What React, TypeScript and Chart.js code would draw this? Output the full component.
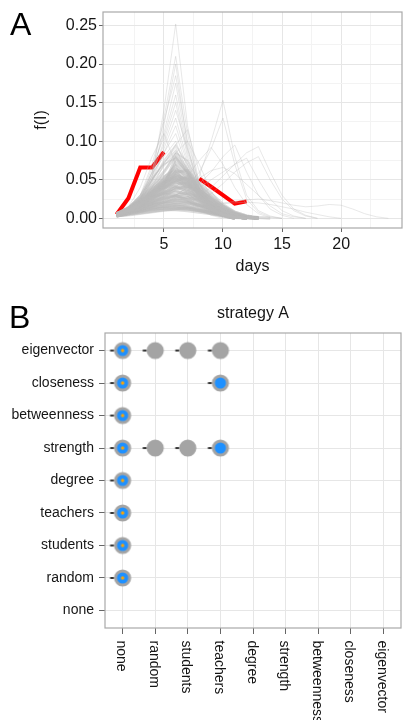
import React, { useEffect, useRef } from 'react';
import { Chart, registerables } from 'chart.js';

Chart.register(...registerables);

const FONT = '"Liberation Sans", Arial, Helvetica, sans-serif';
const TEXT = '#151515';

// ---------- Panel A data ----------
const days = [1, 2, 3, 4, 5, 6, 7, 8, 9, 10, 11, 12, 13, 14, 15, 16, 17, 18, 19, 20, 21, 22, 23, 24];
const xTickValues = [2.5, 5, 7.5, 10, 12.5, 15, 17.5, 20, 22.5];
const xTickLabels = [5, 10, 15, 20];
const yTickValues = [0, 0.025, 0.05, 0.075, 0.1, 0.125, 0.15, 0.175, 0.2, 0.225, 0.25];
const yTickLabels = [0, 0.05, 0.1, 0.15, 0.2, 0.25];

const lowRuns: number[][] = [
  [0.005, 0.010, 0.018, 0.028, 0.040, 0.060, 0.045, 0.025, 0.012, 0.005, 0.001, 0],
  [0.004, 0.009, 0.016, 0.026, 0.038, 0.055, 0.050, 0.030, 0.015, 0.006, 0.002, 0],
  [0.006, 0.012, 0.020, 0.032, 0.045, 0.052, 0.040, 0.024, 0.012, 0.005, 0],
  [0.005, 0.011, 0.019, 0.030, 0.042, 0.048, 0.038, 0.026, 0.014, 0.006, 0.002, 0],
  [0.004, 0.008, 0.014, 0.022, 0.032, 0.044, 0.046, 0.034, 0.020, 0.010, 0.004, 0],
  [0.006, 0.013, 0.022, 0.034, 0.040, 0.042, 0.034, 0.022, 0.011, 0.004, 0],
  [0.005, 0.010, 0.017, 0.026, 0.034, 0.040, 0.036, 0.028, 0.018, 0.009, 0.003, 0],
  [0.003, 0.007, 0.012, 0.020, 0.028, 0.038, 0.042, 0.036, 0.026, 0.015, 0.006, 0.002, 0],
  [0.005, 0.011, 0.018, 0.027, 0.033, 0.036, 0.030, 0.020, 0.011, 0.005, 0],
  [0.004, 0.009, 0.015, 0.022, 0.030, 0.034, 0.032, 0.025, 0.016, 0.008, 0.003, 0],
  [0.006, 0.012, 0.020, 0.028, 0.032, 0.030, 0.024, 0.016, 0.009, 0.004, 0],
  [0.004, 0.008, 0.013, 0.019, 0.025, 0.030, 0.032, 0.028, 0.020, 0.012, 0.006, 0.002, 0],
  [0.005, 0.010, 0.016, 0.022, 0.027, 0.028, 0.024, 0.017, 0.010, 0.004, 0],
  [0.003, 0.007, 0.011, 0.016, 0.021, 0.025, 0.027, 0.024, 0.018, 0.011, 0.005, 0.002, 0],
  [0.005, 0.009, 0.014, 0.019, 0.023, 0.024, 0.021, 0.015, 0.009, 0.004, 0],
  [0.004, 0.008, 0.012, 0.016, 0.019, 0.021, 0.020, 0.017, 0.012, 0.007, 0.003, 0],
  [0.006, 0.010, 0.014, 0.018, 0.020, 0.019, 0.016, 0.011, 0.007, 0.003, 0],
  [0.003, 0.006, 0.009, 0.013, 0.016, 0.018, 0.019, 0.017, 0.013, 0.009, 0.005, 0.002, 0],
  [0.005, 0.008, 0.011, 0.014, 0.016, 0.016, 0.014, 0.010, 0.006, 0.003, 0],
  [0.004, 0.006, 0.009, 0.011, 0.013, 0.014, 0.013, 0.011, 0.008, 0.005, 0.002, 0],
  [0.003, 0.005, 0.007, 0.009, 0.011, 0.012, 0.012, 0.010, 0.008, 0.005, 0.003, 0.001, 0],
  [0.005, 0.012, 0.022, 0.036, 0.050, 0.058, 0.048, 0.032, 0.018, 0.008, 0.003, 0],
  [0.006, 0.014, 0.026, 0.040, 0.054, 0.062, 0.050, 0.030, 0.016, 0.007, 0.002, 0],
  [0.004, 0.010, 0.020, 0.034, 0.048, 0.064, 0.056, 0.038, 0.022, 0.010, 0.004, 0],
  [0.005, 0.011, 0.021, 0.035, 0.052, 0.068, 0.052, 0.032, 0.016, 0.006, 0.002, 0],
  [0.004, 0.009, 0.017, 0.030, 0.046, 0.060, 0.062, 0.044, 0.026, 0.012, 0.005, 0.001, 0],
  [0.006, 0.013, 0.024, 0.038, 0.048, 0.054, 0.044, 0.030, 0.018, 0.009, 0.003, 0],
  [0.005, 0.010, 0.018, 0.030, 0.044, 0.072, 0.058, 0.036, 0.018, 0.008, 0.002, 0],
  [0.004, 0.009, 0.016, 0.028, 0.042, 0.078, 0.060, 0.034, 0.016, 0.006, 0.002, 0],
  [0.005, 0.012, 0.024, 0.042, 0.060, 0.082, 0.062, 0.036, 0.016, 0.006, 0.002, 0],
  [0.004, 0.008, 0.015, 0.024, 0.036, 0.048, 0.054, 0.046, 0.032, 0.018, 0.008, 0.003, 0],
  [0.005, 0.010, 0.017, 0.027, 0.038, 0.050, 0.044, 0.036, 0.026, 0.016, 0.008, 0.003, 0.001, 0],
  [0.004, 0.007, 0.010, 0.013, 0.015, 0.016, 0.015, 0.012, 0.009, 0.006, 0.003, 0.001, 0],
  [0.005, 0.009, 0.013, 0.017, 0.021, 0.023, 0.022, 0.018, 0.013, 0.008, 0.004, 0.001, 0],
  [0.006, 0.011, 0.016, 0.021, 0.026, 0.029, 0.027, 0.022, 0.015, 0.009, 0.004, 0.001, 0],
  [0.004, 0.010, 0.017, 0.025, 0.033, 0.040, 0.041, 0.033, 0.023, 0.013, 0.006, 0.002, 0],
  [0.005, 0.012, 0.020, 0.030, 0.040, 0.047, 0.043, 0.032, 0.020, 0.011, 0.005, 0.001, 0],
  [0.006, 0.013, 0.023, 0.035, 0.046, 0.053, 0.046, 0.033, 0.020, 0.010, 0.004, 0.001, 0],
  [0.003, 0.006, 0.008, 0.010, 0.011, 0.011, 0.010, 0.008, 0.006, 0.004, 0.002, 0],
  [0.005, 0.008, 0.010, 0.012, 0.013, 0.013, 0.012, 0.010, 0.007, 0.004, 0.002, 0],
  [0.004, 0.011, 0.021, 0.033, 0.045, 0.056, 0.050, 0.037, 0.024, 0.013, 0.006, 0.002, 0],
  [0.005, 0.012, 0.022, 0.033, 0.043, 0.050, 0.052, 0.041, 0.028, 0.016, 0.007, 0.002, 0],
];

const midRuns: number[][] = [
  [0.005, 0.013, 0.028, 0.050, 0.072, 0.088, 0.065, 0.038, 0.018, 0.007, 0.002, 0],
  [0.004, 0.011, 0.024, 0.045, 0.068, 0.085, 0.075, 0.045, 0.022, 0.009, 0.003, 0],
  [0.006, 0.014, 0.030, 0.052, 0.070, 0.078, 0.058, 0.034, 0.016, 0.006, 0.002, 0],
  [0.005, 0.012, 0.026, 0.048, 0.075, 0.095, 0.070, 0.040, 0.018, 0.007, 0.002, 0],
];

const highRuns: number[][] = [
  [0.004, 0.010, 0.022, 0.055, 0.140, 0.252, 0.120, 0.045, 0.015, 0.005, 0.002, 0],
  [0.005, 0.012, 0.025, 0.060, 0.130, 0.210, 0.110, 0.040, 0.012, 0.004, 0.001, 0],
  [0.003, 0.008, 0.020, 0.050, 0.120, 0.200, 0.095, 0.035, 0.012, 0.004, 0],
  [0.006, 0.014, 0.030, 0.070, 0.125, 0.185, 0.100, 0.045, 0.015, 0.005, 0.001, 0],
  [0.004, 0.010, 0.024, 0.060, 0.110, 0.175, 0.090, 0.038, 0.014, 0.004, 0],
  [0.005, 0.012, 0.028, 0.065, 0.105, 0.160, 0.085, 0.040, 0.016, 0.006, 0.002, 0],
  [0.004, 0.011, 0.026, 0.055, 0.100, 0.150, 0.080, 0.035, 0.012, 0.004, 0],
  [0.006, 0.015, 0.030, 0.060, 0.095, 0.140, 0.090, 0.045, 0.018, 0.006, 0.002, 0],
  [0.005, 0.012, 0.025, 0.050, 0.090, 0.130, 0.075, 0.032, 0.012, 0.004, 0],
  [0.004, 0.010, 0.022, 0.048, 0.085, 0.120, 0.070, 0.030, 0.010, 0.003, 0],
  [0.005, 0.013, 0.028, 0.055, 0.085, 0.110, 0.065, 0.030, 0.012, 0.004, 0],
  [0.006, 0.014, 0.030, 0.058, 0.080, 0.100, 0.060, 0.028, 0.010, 0.003, 0],
  [0.005, 0.012, 0.026, 0.050, 0.072, 0.092, 0.055, 0.025, 0.010, 0.003, 0],
  [0.005, 0.015, 0.040, 0.080, 0.110, 0.070, 0.030, 0.012, 0.004, 0],
  [0.004, 0.010, 0.020, 0.040, 0.070, 0.095, 0.115, 0.060, 0.025, 0.010, 0.003, 0],
  [0.003, 0.008, 0.018, 0.035, 0.060, 0.085, 0.100, 0.070, 0.035, 0.015, 0.005, 0.001, 0],
];

const lateRuns: number[][] = [
  [0.003, 0.006, 0.010, 0.015, 0.020, 0.028, 0.035, 0.055, 0.100, 0.153, 0.080, 0.030, 0.010, 0.003, 0],
  [0.004, 0.007, 0.012, 0.018, 0.025, 0.030, 0.040, 0.060, 0.090, 0.130, 0.070, 0.025, 0.008, 0.002, 0],
  [0.004, 0.008, 0.014, 0.020, 0.028, 0.040, 0.055, 0.075, 0.092, 0.070, 0.040, 0.018, 0.006, 0.001, 0],
  [0.003, 0.006, 0.010, 0.014, 0.018, 0.022, 0.025, 0.030, 0.040, 0.055, 0.070, 0.085, 0.093, 0.060, 0.030, 0.012, 0.004, 0],
  [0.003, 0.005, 0.008, 0.012, 0.016, 0.020, 0.022, 0.026, 0.032, 0.045, 0.060, 0.072, 0.080, 0.050, 0.025, 0.010, 0.003, 0],
  [0.004, 0.008, 0.012, 0.018, 0.024, 0.030, 0.036, 0.045, 0.060, 0.080, 0.095, 0.060, 0.030, 0.012, 0.004, 0],
  [0.003, 0.006, 0.010, 0.015, 0.020, 0.026, 0.032, 0.040, 0.050, 0.060, 0.070, 0.078, 0.050, 0.025, 0.010, 0.003, 0],
  [0.002, 0.004, 0.006, 0.008, 0.010, 0.012, 0.014, 0.016, 0.018, 0.020, 0.022, 0.024, 0.025, 0.023, 0.020, 0.017, 0.015, 0.016, 0.018, 0.017, 0.012, 0.006, 0.002, 0],
  [0.002, 0.003, 0.005, 0.007, 0.009, 0.011, 0.013, 0.015, 0.017, 0.019, 0.020, 0.021, 0.020, 0.018, 0.015, 0.012, 0.008, 0.005, 0.002, 0],
  [0.003, 0.006, 0.010, 0.016, 0.022, 0.030, 0.040, 0.052, 0.062, 0.066, 0.058, 0.044, 0.030, 0.016, 0.006, 0.002, 0],
];

const redRun: (number | null)[] = [0.005, 0.026, 0.066, 0.066, 0.086, null, null, 0.0515, 0.041, 0.030, 0.019, 0.022];

// ---------- Panel B data ----------
const panelBTitle = 'strategy A';
const strategies = ['none', 'random', 'students', 'teachers', 'degree', 'strength', 'betweenness', 'closeness', 'eigenvector'];
const markRow = ['eigenvector', 'closeness', 'betweenness', 'strength', 'degree', 'teachers', 'students', 'random',
  'eigenvector', 'strength', 'eigenvector', 'strength', 'eigenvector', 'closeness', 'strength'];
const markCol = ['none', 'none', 'none', 'none', 'none', 'none', 'none', 'none',
  'random', 'random', 'students', 'students', 'teachers', 'teachers', 'teachers'];
const markKind = ['both', 'both', 'both', 'both', 'both', 'both', 'both', 'both',
  'gray', 'gray', 'gray', 'gray', 'gray', 'blue', 'blue'];
const markKinds = ['gray', 'blue', 'both'];

const near = (list: number[], v: number) => list.some((m) => Math.abs(m - v) < 1e-9);

const panelBorder = {
  id: 'panelBorder',
  afterDatasetsDraw(chart: any) {
    const { ctx, chartArea: a } = chart;
    ctx.save();
    ctx.strokeStyle = '#a9a9a9';
    ctx.lineWidth = 1.2;
    ctx.strokeRect(a.left, a.top, a.right - a.left, a.bottom - a.top);
    ctx.restore();
  },
};

function makeMarker(kind: string): HTMLCanvasElement {
  const c = document.createElement('canvas');
  c.width = 30;
  c.height = 20;
  const g = c.getContext('2d')!;
  g.fillStyle = '#222222';
  g.fillRect(2.5, 9.1, 4, 1.8);
  g.beginPath();
  g.arc(15, 10, 8.6, 0, Math.PI * 2);
  g.fillStyle = '#a4a4a4';
  g.fill();
  if (kind !== 'gray') {
    g.beginPath();
    g.arc(15, 10, 5.6, 0, Math.PI * 2);
    g.fillStyle = '#1e90ff';
    g.fill();
  }
  if (kind === 'both') {
    g.beginPath();
    g.arc(15, 10, 1.7, 0, Math.PI * 2);
    g.fillStyle = '#ffa500';
    g.fill();
  }
  return c;
}

function PanelA() {
  const ref = useRef<HTMLCanvasElement>(null);
  useEffect(() => {
    const toPts = (run: (number | null)[]) => run.map((v, i) => ({ x: days[i], y: v }));
    const grayLine = (run: number[], width: number, color: string) => ({
      data: toPts(run),
      borderColor: color,
      borderWidth: width,
      pointRadius: 0,
      tension: 0,
    });
    const chart = new Chart(ref.current!, {
      type: 'line',
      data: {
        datasets: [
          ...lowRuns.map((r) => grayLine(r, 3, 'rgba(185,185,185,0.5)')),
          ...midRuns.map((r) => grayLine(r, 1.5, 'rgba(185,185,185,0.4)')),
          ...highRuns.map((r) => grayLine(r, 1, 'rgba(185,185,185,0.32)')),
          ...lateRuns.map((r) => grayLine(r, 1, 'rgba(185,185,185,0.32)')),
          {
            data: toPts(redRun),
            borderColor: '#ff0000',
            borderWidth: 4,
            pointRadius: 0,
            spanGaps: false,
            borderJoinStyle: 'miter',
            borderCapStyle: 'butt',
          } as any,
        ],
      },
      options: {
        animation: false,
        responsive: false,
        events: [],
        layout: { padding: { left: 0, top: 12, right: 14, bottom: 0 } },
        plugins: { legend: { display: false }, tooltip: { enabled: false } },
        scales: {
          x: {
            type: 'linear',
            min: -0.15,
            max: 25.15,
            afterBuildTicks: (s: any) => { s.ticks = xTickValues.map((v) => ({ value: v })); },
            afterFit: (s: any) => { s.height = 62; },
            ticks: {
              autoSkip: false,
              maxRotation: 0,
              padding: 3,
              color: TEXT,
              font: { family: FONT, size: 16 },
              callback: (v: any) => (near(xTickLabels, Number(v)) ? String(v) : ''),
            },
            grid: {
              color: (c: any) => (near(xTickLabels, c.tick?.value) ? '#e6e6e6' : '#f3f3f3'),
              tickColor: (c: any) => (near(xTickLabels, c.tick?.value) ? '#666' : 'rgba(0,0,0,0)'),
              tickLength: 4,
              lineWidth: 1,
            },
            border: { display: false },
            title: { display: true, text: 'days', color: TEXT, font: { family: FONT, size: 16 }, padding: { top: 0, bottom: 14 } },
          },
          y: {
            type: 'linear',
            min: -0.0125,
            max: 0.2675,
            afterBuildTicks: (s: any) => { s.ticks = yTickValues.map((v) => ({ value: v })); },
            afterFit: (s: any) => { s.width = 103; },
            ticks: {
              autoSkip: false,
              padding: 2,
              color: TEXT,
              font: { family: FONT, size: 16 },
              callback: (v: any) => (near(yTickLabels, Number(v)) ? Number(v).toFixed(2) : ''),
            },
            grid: {
              color: (c: any) => (near(yTickLabels, c.tick?.value) ? '#e6e6e6' : '#f3f3f3'),
              tickColor: (c: any) => (near(yTickLabels, c.tick?.value) ? '#666' : 'rgba(0,0,0,0)'),
              tickLength: 4,
              lineWidth: 1,
            },
            border: { display: false },
            title: { display: true, text: 'f(I)', color: TEXT, font: { family: FONT, size: 16 }, padding: { top: 32, bottom: 0 } },
          },
        },
      },
      plugins: [panelBorder],
    } as any);
    return () => chart.destroy();
  }, []);
  return <canvas ref={ref} width={416} height={290} style={{ position: 'absolute', left: 0, top: 0, width: 416, height: 290 }} />;
}

function PanelB() {
  const ref = useRef<HTMLCanvasElement>(null);
  useEffect(() => {
    const xLabelsPlugin = {
      id: 'xLabels',
      afterDraw(chart: any) {
        const { ctx, chartArea: a } = chart;
        const xs = chart.scales.x;
        ctx.save();
        ctx.fillStyle = TEXT;
        ctx.font = `14px ${FONT}`;
        ctx.textAlign = 'left';
        ctx.textBaseline = 'alphabetic';
        strategies.forEach((name, i) => {
          const px = xs.getPixelForValue(i);
          ctx.save();
          ctx.translate(px, a.bottom + 12.5);
          ctx.rotate(Math.PI / 2);
          ctx.fillText(name, 0, 5.5);
          ctx.restore();
        });
        ctx.font = `16px ${FONT}`;
        ctx.textAlign = 'center';
        ctx.fillText(panelBTitle, (a.left + a.right) / 2, 27.5);
        ctx.restore();
      },
    };
    const datasets = markKinds.map((kind) => {
      const img = makeMarker(kind);
      const pts = markKind
        .map((k, i) => ({ k, x: strategies.indexOf(markCol[i]), y: strategies.indexOf(markRow[i]) }))
        .filter((p) => p.k === kind)
        .map((p) => ({ x: p.x, y: p.y }));
      return { data: pts, pointStyle: img, pointRadius: 10, showLine: false };
    });
    const axisGrid = { color: '#e6e6e6', tickColor: '#666', tickLength: 6, lineWidth: 1 };
    const chart = new Chart(ref.current!, {
      type: 'scatter',
      data: { datasets },
      options: {
        animation: false,
        responsive: false,
        events: [],
        layout: { padding: { left: 0, top: 43, right: 15, bottom: 0 } },
        plugins: { legend: { display: false }, tooltip: { enabled: false } },
        scales: {
          x: {
            type: 'linear',
            min: -0.54,
            max: 8.54,
            afterBuildTicks: (s: any) => { s.ticks = strategies.map((_, i) => ({ value: i })); },
            afterFit: (s: any) => { s.height = 92; },
            ticks: { autoSkip: false, maxRotation: 0, callback: () => '' },
            grid: axisGrid,
            border: { display: false },
          },
          y: {
            type: 'linear',
            min: -0.54,
            max: 8.54,
            afterBuildTicks: (s: any) => { s.ticks = strategies.map((_, i) => ({ value: i })); },
            afterFit: (s: any) => { s.width = 105; },
            ticks: {
              autoSkip: false,
              padding: 5,
              color: TEXT,
              font: { family: FONT, size: 14 },
              callback: (v: any) => strategies[Math.round(Number(v))] ?? '',
            },
            grid: axisGrid,
            border: { display: false },
          },
        },
      },
      plugins: [panelBorder, xLabelsPlugin],
    } as any);
    return () => chart.destroy();
  }, []);
  return <canvas ref={ref} width={416} height={430} style={{ position: 'absolute', left: 0, top: 290, width: 416, height: 430 }} />;
}

export default function App() {
  const letter: React.CSSProperties = {
    position: 'absolute',
    fontFamily: FONT,
    fontSize: 32,
    lineHeight: '32px',
    color: '#000',
    zIndex: 2,
  };
  return (
    <div style={{ position: 'absolute', left: 0, top: 0, width: 416, height: 720, background: '#fff', overflow: 'hidden' }}>
      <PanelA />
      <PanelB />
      <div style={{ ...letter, left: 10, top: 8 }}>A</div>
      <div style={{ ...letter, left: 9, top: 301 }}>B</div>
    </div>
  );
}
